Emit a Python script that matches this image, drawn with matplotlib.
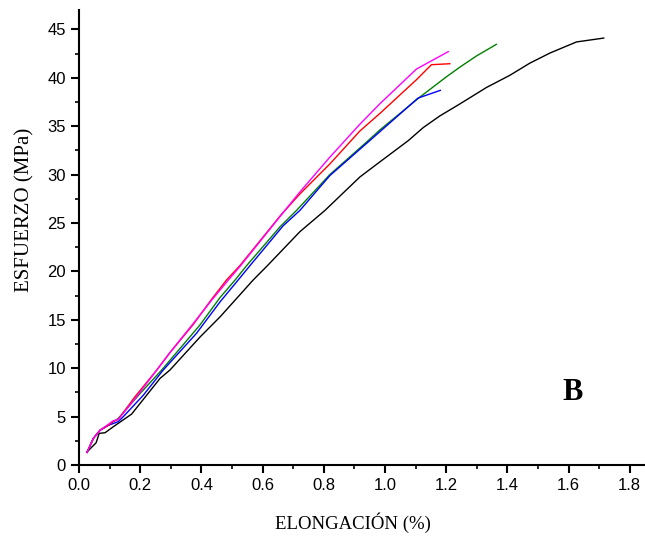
import matplotlib
matplotlib.use("Agg")
import matplotlib.pyplot as plt
from matplotlib.ticker import MultipleLocator

# curvas esfuerzo-deformacion
x_negro = [0.026, 0.056, 0.066, 0.085, 0.112, 0.172, 0.265, 0.297, 0.395, 0.461, 0.569,
           0.613, 0.722, 0.804, 0.918, 0.983, 1.076, 1.125, 1.179, 1.245, 1.332, 1.408,
           1.473, 1.539, 1.626, 1.715]
y_negro = [1.34, 2.3, 3.27, 3.33, 3.95, 5.26, 8.95, 9.8, 13.2, 15.3, 19.1,
           20.5, 24.1, 26.3, 29.75, 31.3, 33.5, 34.85, 36.05, 37.3, 39.0, 40.25,
           41.5, 42.55, 43.7, 44.1]

x_verde = [0.026, 0.047, 0.069, 0.096, 0.128, 0.2, 0.27, 0.395, 0.461, 0.51, 0.548,
           0.657, 0.711, 0.82, 0.945, 0.983, 1.114, 1.201, 1.245, 1.299, 1.364]
y_verde = [1.3, 2.75, 3.6, 4.13, 4.8, 7.4, 9.8, 14.45, 17.3, 19.1, 20.6,
           24.6, 26.3, 30.0, 33.5, 34.6, 38.0, 40.1, 41.1, 42.25, 43.45]

x_azul = [0.026, 0.047, 0.069, 0.096, 0.128, 0.145, 0.21, 0.275, 0.384, 0.461, 0.52,
          0.559, 0.667, 0.722, 0.82, 0.95, 1.108, 1.181]
y_azul = [1.3, 2.75, 3.6, 4.1, 4.47, 5.0, 7.2, 9.8, 13.6, 16.85, 19.1,
          20.6, 24.7, 26.3, 29.9, 33.5, 37.9, 38.7]

x_rojo = [0.026, 0.047, 0.069, 0.096, 0.112, 0.128, 0.183, 0.254, 0.297, 0.373, 0.433,
          0.482, 0.526, 0.662, 0.722, 0.82, 0.918, 0.983, 1.103, 1.152, 1.212]
y_rojo = [1.3, 2.75, 3.6, 4.1, 4.5, 4.7, 7.05, 9.8, 11.6, 14.5, 17.1,
          19.1, 20.6, 25.9, 28.0, 31.1, 34.5, 36.3, 39.8, 41.35, 41.45]

x_magenta = [0.026, 0.047, 0.069, 0.085, 0.112, 0.128, 0.188, 0.254, 0.297, 0.373, 0.433,
             0.488, 0.526, 0.673, 0.722, 0.82, 0.918, 0.983, 1.103, 1.207]
y_magenta = [1.3, 2.75, 3.6, 3.95, 4.57, 4.7, 7.05, 9.8, 11.6, 14.6, 17.0,
             19.1, 20.5, 26.3, 28.2, 31.8, 35.2, 37.3, 40.9, 42.7]

fig = plt.figure(figsize=(6.45, 5.37), dpi=100)
ax = fig.add_axes([79 / 645, 72 / 537, 566 / 645, 455 / 537])

ax.plot(x_negro, y_negro, color="black", lw=1)
ax.plot(x_verde, y_verde, color="#008000", lw=1)
ax.plot(x_azul, y_azul, color="blue", lw=1)
ax.plot(x_rojo, y_rojo, color="red", lw=1)
ax.plot(x_magenta, y_magenta, color="magenta", lw=1)

ax.set_xlim(0, 1.85)
ax.set_ylim(0, 47)
ax.xaxis.set_major_locator(MultipleLocator(0.2))
ax.xaxis.set_minor_locator(MultipleLocator(0.1))
ax.yaxis.set_major_locator(MultipleLocator(5))
ax.yaxis.set_minor_locator(MultipleLocator(2.5))
ax.xaxis.set_major_formatter(plt.FuncFormatter(lambda v, p: f"{v:.1f}"))

for s in ["top", "right"]:
    ax.spines[s].set_visible(False)
for s in ["left", "bottom"]:
    ax.spines[s].set_linewidth(1.5)

ax.tick_params(which="major", direction="out", length=6, width=1.5,
               labelsize=12, labelfontfamily="Liberation Sans")
ax.tick_params(which="minor", direction="out", length=3, width=1.2)

ax.set_xlabel("ELONGACIÓN (%)", family="Liberation Serif", fontsize=13.5)
ax.set_ylabel("ESFUERZO (MPa)", family="Liberation Serif", fontsize=15)
ax.xaxis.set_label_coords(0.484, -0.105)
ax.yaxis.set_label_coords(-0.078, 0.56)

ax.text(1.614, 7.5, "B", family="Liberation Serif", fontweight="bold",
        fontsize=22, ha="center", va="center")

fig.savefig("out.png", dpi=100)
